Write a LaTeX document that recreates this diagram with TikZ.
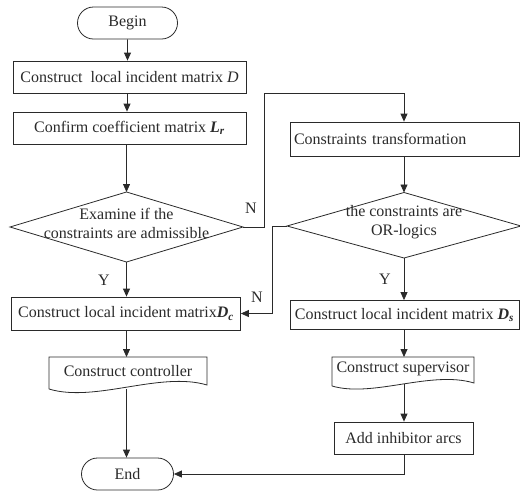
\documentclass[tikz,border=0pt]{standalone}
\usepackage{fontspec}
\setmainfont{Liberation Serif}
\usetikzlibrary{arrows.meta,shapes.geometric,shapes.misc,calc}

\definecolor{ink}{HTML}{2A2A2A}
\newcommand{\bmat}[2]{\textbf{\textit{#1}}\textsubscript{\textbf{\textit{#2}}}}

\begin{document}
\begin{tikzpicture}[x=1pt,y=-1pt,
  every node/.style={font=\fontsize{16}{19}\selectfont, text=ink},
  line/.style={draw=ink, line width=0.8pt},
  flow/.style={line, -{Triangle[length=8pt,width=7pt]}},
  procbox/.style={line, rectangle, inner sep=0pt},
  termbox/.style={line, rounded rectangle, inner sep=0pt},
  doctext/.style={inner sep=0pt},
  answer/.style={inner sep=0pt}
]
\useasboundingbox (0,0) rectangle (520,491);

% left column
\node[termbox, minimum width=100pt, minimum height=32pt] (begin) at (127.5,23) {Begin};
\node[procbox, minimum width=233pt, minimum height=32pt] (lim) at (129.5,77) {Construct\ \ local incident matrix \textit{D}};
\node[procbox, minimum width=233pt, minimum height=32pt] (coef) at (129.5,128) {Confirm coefficient matrix \bmat{L}{r}};
\draw[line] (10,227) coordinate (d1w) -- (126.5,192) coordinate (d1n) -- (243,227) coordinate (d1e) -- (126.5,262) coordinate (d1s) -- cycle;
\node[align=center, inner sep=0pt] (d1text) at (126.5,223) {Examine if the\\constraints are admissible};
\node[procbox, minimum width=229pt, minimum height=33pt] (dc) at (126,313.5) {Construct local incident matrix\bmat{D}{c}};
\node[doctext, minimum width=158pt, minimum height=28pt] (ctrl) at (128,371) {Construct controller};
\draw[line] (49,389) -- (49,357) -- (207,357) -- (207,385)
  .. controls (160,371) and (95,403) .. (49,389);
\node[termbox, minimum width=92pt, minimum height=32pt] (end) at (127.5,474) {End};

% right column
\node[procbox, minimum width=229pt, minimum height=34pt, text width=221pt, align=left] (ct) at (404.5,139) {Constraints transformation};
\draw[line] (287,226) coordinate (d2w) -- (404,192.5) coordinate (d2n) -- (521,226) coordinate (d2e) -- (404,258) coordinate (d2s) -- cycle;
\node[align=center, inner sep=0pt] (d2text) at (404,222) {the constraints are\\OR-logics};
\node[procbox, minimum width=229pt, minimum height=29pt] (ds) at (404.5,315) {Construct local incident matrix \bmat{D}{s}};
\node[doctext, minimum width=142pt, minimum height=26pt] (sup) at (403,369) {Construct supervisor};
\draw[line] (332,386) -- (332,357) -- (474,357) -- (474,383)
  .. controls (431,370) and (373,398) .. (332,386);
\node[procbox, minimum width=139pt, minimum height=32pt] (inh) at (403.5,438) {Add inhibitor arcs};

% connectors, left column
\draw[flow] (begin) -- (begin |- lim.north);
\draw[flow] ([xshift=-2.5pt]lim.south) -- ([xshift=-2.5pt]coef.north);
\draw[flow] ([xshift=-3pt]coef.south) -- (d1n);
\draw[flow] (d1s) -- (d1s |- dc.north);
\draw[flow] (d1s |- dc.south) -- (d1s |- 0,357);
\draw[flow] (d1s |- 0,389) -- (d1s |- end.north);

% connectors, right column
\coordinate (loopA) at (264,93);
\draw[flow] (d1e) -| (loopA) -| (d2n |- ct.north);
\draw[flow] (d2n |- ct.south) -- (d2n);
\draw[flow] (d2s) -- (d2s |- ds.north);
\draw[flow] (d2s |- ds.south) -- (d2s |- 0,357);
\draw[flow] (d2s |- 0,384) -- (d2s |- inh.north);
\draw[flow] (d2s |- inh.south) |- (end.east);
\draw[flow] (d2w) -| ([xshift=31pt]dc.east) -- (dc.east);

% branch labels
\node[answer] (n1) at (251,208) {N};
\node[answer] (y1) at (104,280) {Y};
\node[answer] (n2) at (257,297) {N};
\node[answer] (y2) at (385,279) {Y};
\end{tikzpicture}
\end{document}
